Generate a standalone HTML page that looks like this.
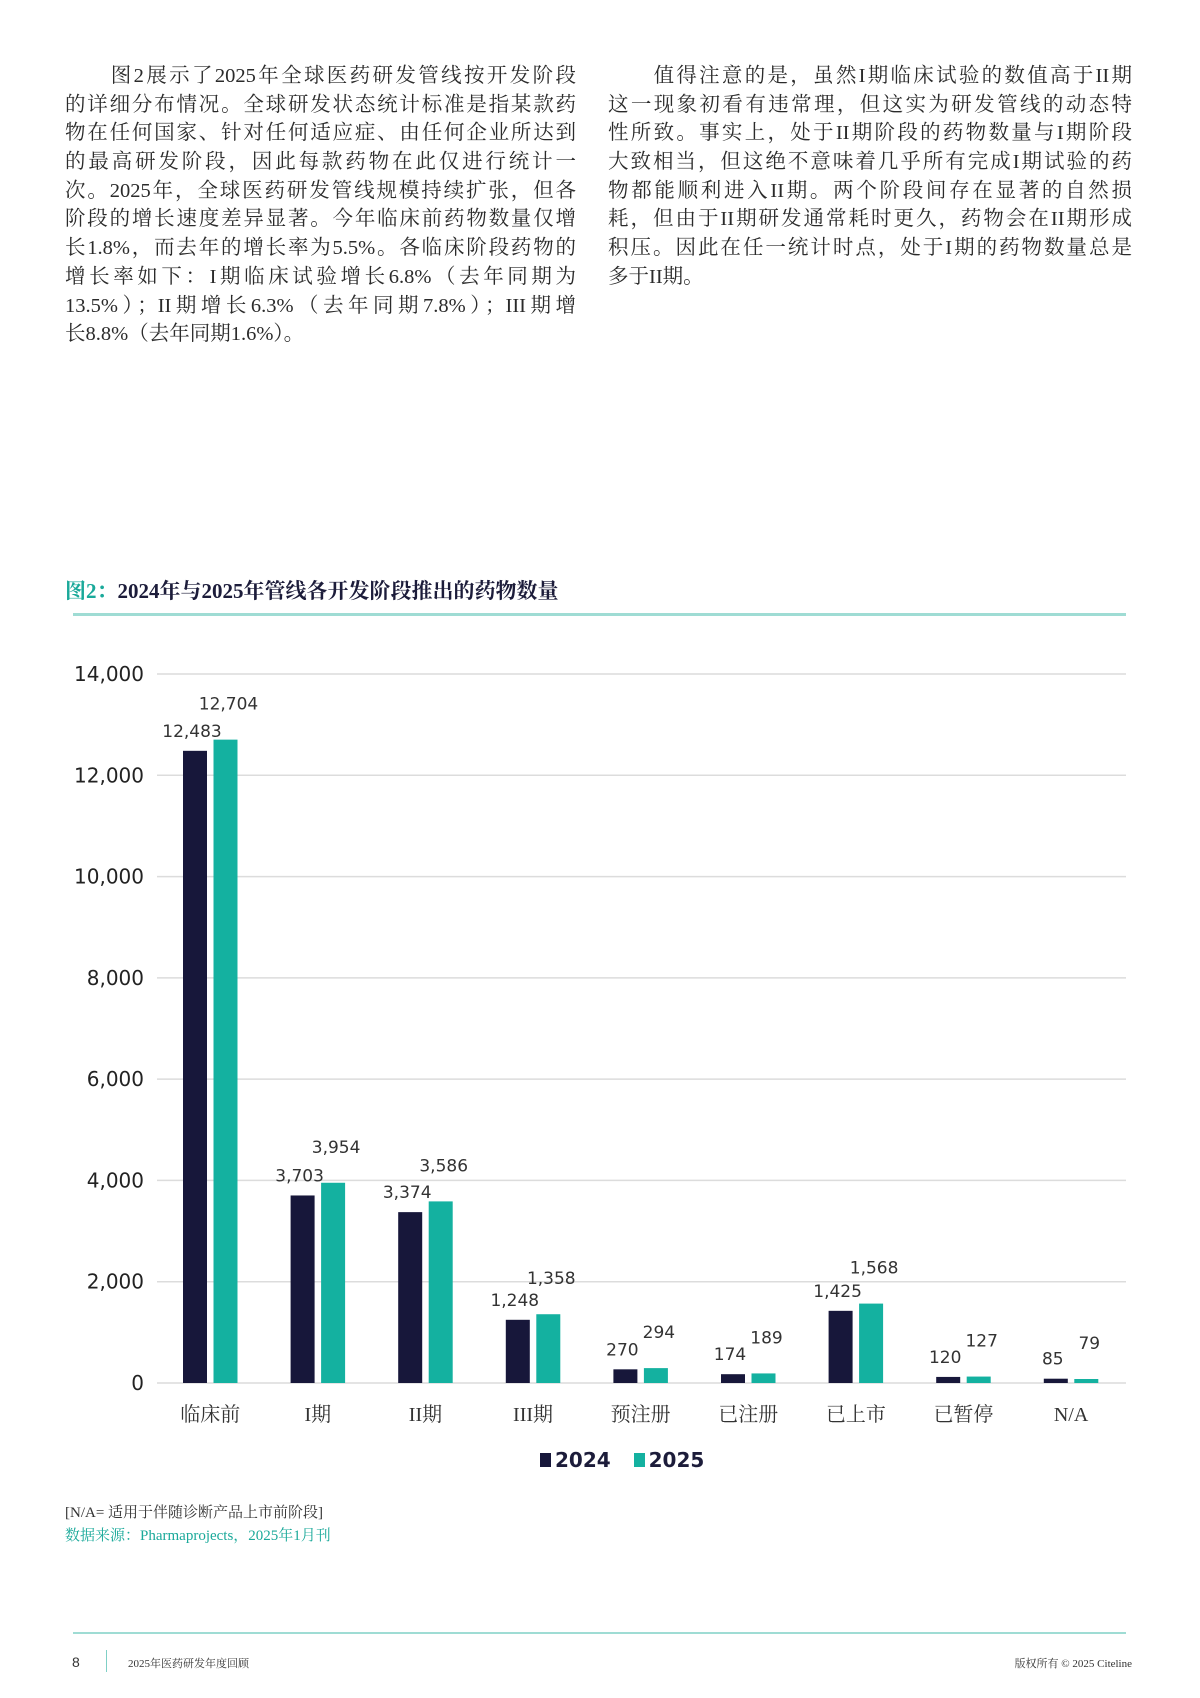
<!DOCTYPE html>
<html><head><meta charset="utf-8">
<style>
html,body{margin:0;padding:0;background:#fff;}
body{width:1200px;height:1698px;position:relative;overflow:hidden;font-family:"Liberation Serif","Noto Serif CJK SC",serif;color:#2b2b2b;}
.col{position:absolute;top:62px;font-size:20.5px;line-height:28.7px;}
.col div{text-align:justify;text-align-last:justify;white-space:nowrap;height:28.7px;}
.col div.last{text-align-last:left;}
#left{left:65px;width:511px;}
#right{left:608px;width:524px;}
</style></head><body>
<div id="left" class="col">
<div>　　图2展示了2025年全球医药研发管线按开发阶段</div>
<div>的详细分布情况。全球研发状态统计标准是指某款药</div>
<div>物在任何国家、针对任何适应症、由任何企业所达到</div>
<div>的最高研发阶段，因此每款药物在此仅进行统计一</div>
<div>次。2025年，全球医药研发管线规模持续扩张，但各</div>
<div>阶段的增长速度差异显著。今年临床前药物数量仅增</div>
<div>长1.8%，而去年的增长率为5.5%。各临床阶段药物的</div>
<div>增长率如下：I期临床试验增长6.8%（去年同期为</div>
<div>13.5%）；II期增长6.3%（去年同期7.8%）；III期增</div>
<div class="last">长8.8%（去年同期1.6%）。</div>
</div>
<div id="right" class="col">
<div>　　值得注意的是，虽然I期临床试验的数值高于II期</div>
<div>这一现象初看有违常理，但这实为研发管线的动态特</div>
<div>性所致。事实上，处于II期阶段的药物数量与I期阶段</div>
<div>大致相当，但这绝不意味着几乎所有完成I期试验的药</div>
<div>物都能顺利进入II期。两个阶段间存在显著的自然损</div>
<div>耗，但由于II期研发通常耗时更久，药物会在II期形成</div>
<div>积压。因此在任一统计时点，处于I期的药物数量总是</div>
<div class="last">多于II期。</div>
</div>

<div style="position:absolute;left:65px;top:575px;font-size:21px;font-weight:bold;color:#1c1c3a;white-space:nowrap;"><span style="color:#1aa99a">图2：</span>2024年与2025年管线各开发阶段推出的药物数量</div>
<div style="position:absolute;left:73px;top:613px;width:1053px;height:3px;background:#9fdcd4;"></div>

<svg id="chart" width="1200" height="1698" style="position:absolute;left:0;top:0;">
<g id="grid"></g><g id="bars"></g><g id="labels"></g>
</svg>

<div style="position:absolute;left:540px;top:1448px;font-family:'DejaVu Sans','Liberation Sans',sans-serif;font-size:20px;font-weight:bold;color:#1c1c3a;white-space:nowrap;">
<span><span style="display:inline-block;width:11px;height:14px;background:#17173a;margin-right:4px;"></span>2024</span>
<span style="margin-left:16px;"><span style="display:inline-block;width:11px;height:14px;background:#14b1a0;margin-right:4px;"></span>2025</span>
</div>

<div style="position:absolute;left:65px;top:1501px;font-size:15px;color:#333;">[N/A= 适用于伴随诊断产品上市前阶段]</div>
<div style="position:absolute;left:65px;top:1524px;font-size:15px;color:#1aa99a;">数据来源：Pharmaprojects，2025年1月刊</div>

<div style="position:absolute;left:73px;top:1632px;width:1053px;height:2px;background:#9fdcd4;"></div>
<div style="position:absolute;left:72px;top:1654px;font-size:14px;color:#333;font-family:'Liberation Sans',sans-serif;">8</div>
<div style="position:absolute;left:106px;top:1650px;width:1px;height:22px;background:#7fd0c6;"></div>
<div style="position:absolute;left:128px;top:1655px;font-size:11px;color:#333;">2025年医药研发年度回顾</div>
<div style="position:absolute;right:68px;top:1655px;font-size:11px;color:#333;">版权所有 © 2025 Citeline</div>

<script>
const categories = ["临床前","I期","II期","III期","预注册","已注册","已上市","已暂停","N/A"];
const values2024 = [12483,3703,3374,1248,270,174,1425,120,85];
const values2025 = [12704,3954,3586,1358,294,189,1568,127,79];
const yTicks = [0,2000,4000,6000,8000,10000,12000,14000];

const NS="http://www.w3.org/2000/svg";
const plotL=157, plotR=1126, y0=1383, yTop=674, yMax=14000;
const groupStart=183, groupStep=107.6, barW=24, barGap=6.5;
function y(v){return y0-(v/yMax)*(y0-yTop);}
function xBar(i,s){return groupStart+i*groupStep+s*(barW+barGap);}
function fmt(v){return v.toLocaleString("en-US");}
function mk(tag,attrs,parent){const e=document.createElementNS(NS,tag);for(const k in attrs)e.setAttribute(k,attrs[k]);parent.appendChild(e);return e;}
const grid=document.getElementById("grid"),bars=document.getElementById("bars"),labels=document.getElementById("labels");
yTicks.forEach(t=>{
  const l=mk("line",{x1:plotL,x2:plotR,y1:y(t),y2:y(t),stroke:"#dcdcdc","stroke-width":1.5},grid);
  
  
  const tx=mk("text",{x:144,y:y(t)+7,"text-anchor":"end","font-family":"DejaVu Sans, Liberation Sans, sans-serif","font-size":20,fill:"#222"},labels);
  tx.textContent=fmt(t);
  
  
});
const series=[values2024,values2025],colors=["#17173a","#14b1a0"],offs=[20,36];
categories.forEach((c,i)=>{
  series.forEach((vals,s)=>{
    const v=vals[i],x=xBar(i,s);
    const r=mk("rect",{x:x,y:y(v),width:barW,height:y0-y(v),fill:colors[s]},bars);
    
    
    const t=mk("text",{x:x+barW/2-(s?-3:3),y:y(v)-offs[s]+6,"text-anchor":"middle","font-family":"DejaVu Sans, Liberation Sans, sans-serif","font-size":17,fill:"#333"},labels);
    t.textContent=fmt(v);
    
    
  });
  const cx=xBar(i,0)+barW+barGap/2;
  const ct=mk("text",{x:cx,y:1421,"text-anchor":"middle","font-family":"Liberation Serif, Noto Serif CJK SC, serif","font-size":20,fill:"#333"},labels);
  ct.textContent=c;
  
  
});
</script>
</body></html>
